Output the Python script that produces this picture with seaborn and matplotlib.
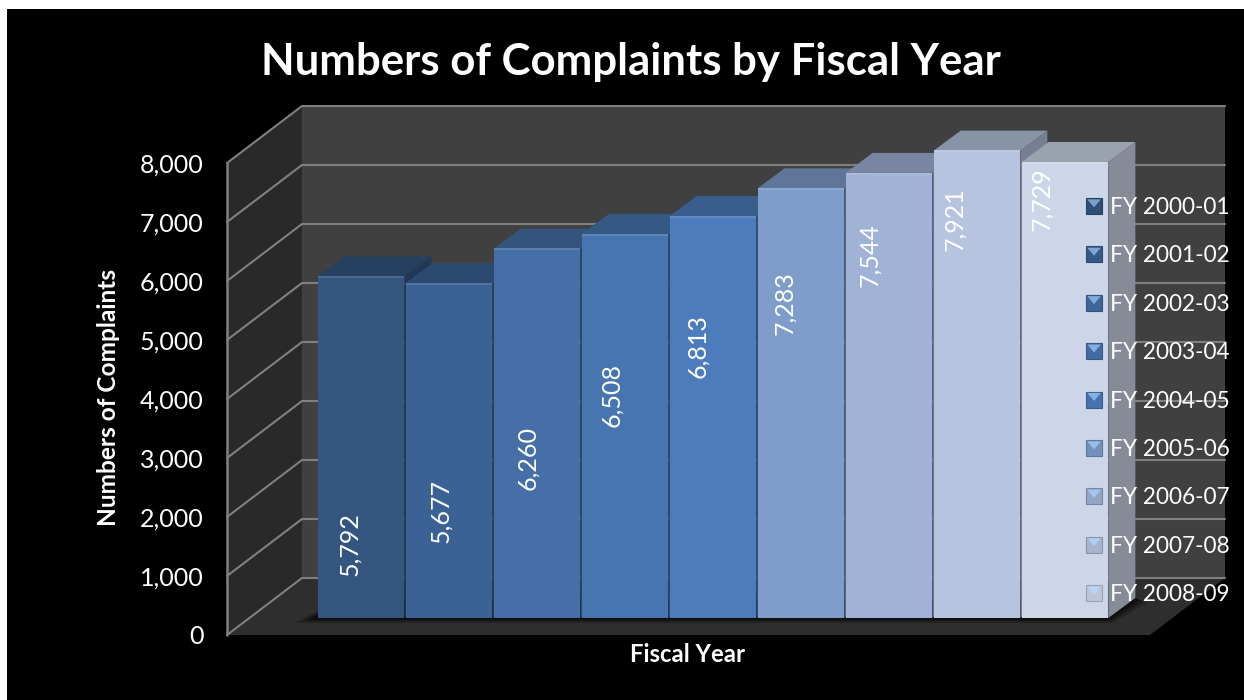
import matplotlib
matplotlib.use("Agg")
import matplotlib.pyplot as plt
import pandas as pd
import seaborn as sns
from matplotlib.colors import to_rgb
from matplotlib.legend_handler import HandlerBase
from matplotlib.patches import Patch, Polygon, Rectangle

# Complaint counts per fiscal year
fiscal_years = ["FY 2000-01", "FY 2001-02", "FY 2002-03", "FY 2003-04", "FY 2004-05",
                "FY 2005-06", "FY 2006-07", "FY 2007-08", "FY 2008-09"]
complaints = [5792, 5677, 6260, 6508, 6813, 7283, 7544, 7921, 7729]
y_ticks = [0, 1000, 2000, 3000, 4000, 5000, 6000, 7000, 8000]

front_colors = ["#33557f", "#3b6294", "#456fa6", "#4775b0", "#4c7cbc",
                "#7f9dca", "#a0b3d6", "#b6c4df", "#cdd6e9"]

# Where each rotated value label sits: height on the value scale, sideways shift in bar widths
label_heights = [1254, 1814, 2712, 3780, 4610, 5339, 6153, 6763, 7102]
label_shifts = [-0.125, -0.10, -0.11, -0.148, -0.17, -0.182, -0.216, -0.25, -0.26]

W, H = 1244, 700
UNIT_PX = 0.059          # pixels per complaint on the vertical scale
WALL_DX, WALL_DY = 75, 57   # depth of the chart box, px
BAR_DX, BAR_DY = 27, 20     # depth of each column, px
PITCH = 88                  # px per category

sns.set_theme(style="dark")
plt.rcParams["font.family"] = ["Lato", "DejaVu Sans"]
plt.rcParams["text.color"] = "white"


def px_box(left, right, top, bottom):
    return [left / W, 1 - bottom / H, (right - left) / W, (bottom - top) / H]


def shade(color, factor):
    return tuple(c * factor for c in to_rgb(color))


def mix(color, other, t):
    a, b = to_rgb(color), to_rgb(other)
    return tuple(x + (y - x) * t for x, y in zip(a, b))


class BevelHandler(HandlerBase):
    """Legend key: a small square with a lighter wedge along its top edge."""

    def create_artists(self, legend, orig, xd, yd, width, height, fontsize, trans):
        base = orig.get_facecolor()
        box = Rectangle((-xd, -yd), width, height, facecolor=mix(base, "#000000", 0.08),
                        edgecolor=mix(base, "#000000", 0.25), linewidth=0.8, transform=trans)
        wedge = Polygon([(-xd + 0.08 * width, -yd + 0.92 * height),
                         (-xd + 0.92 * width, -yd + 0.92 * height),
                         (-xd + 0.5 * width, -yd + 0.42 * height)],
                        facecolor=mix(base, "#a8d4ff", 0.6), edgecolor="none", transform=trans)
        return [box, wedge]


fig = plt.figure(figsize=(W / 100, H / 100), dpi=100, facecolor="white")
fig.add_artist(Rectangle((7 / W, 0), 1 - 7 / W, 1 - 9 / H, transform=fig.transFigure,
                         facecolor="black", edgecolor="none", zorder=-5))

# ---- chart box: side wall, back wall and floor, with the value axis on the front edge
WALL_LEFT, WALL_RIGHT, WALL_BOTTOM = 227, 1225, 635
wall_top = WALL_BOTTOM - 8000 * UNIT_PX - WALL_DY
box = fig.add_axes(px_box(WALL_LEFT, WALL_RIGHT, wall_top, WALL_BOTTOM))
box.patch.set_visible(False)
box_width = WALL_RIGHT - WALL_LEFT
depth_v = WALL_DY / UNIT_PX
box.set_xlim(0, box_width)
box.set_ylim(0, 8000 + depth_v)
box.add_patch(Polygon([(WALL_DX, depth_v), (box_width, depth_v), (box_width, 8000 + depth_v),
                       (WALL_DX, 8000 + depth_v)], facecolor="#404040", edgecolor="none"))
box.add_patch(Polygon([(0, 0), (WALL_DX, depth_v), (WALL_DX, 8000 + depth_v), (0, 8000)],
                      facecolor="#292929", edgecolor="none"))
box.add_patch(Polygon([(0, 0), (box_width - WALL_DX, 0), (box_width, depth_v), (WALL_DX, depth_v)],
                      facecolor="#2e2e2e", edgecolor="none"))
for v in y_ticks:
    box.plot([0, WALL_DX, box_width], [v, v + depth_v, v + depth_v], color="#808080", lw=1.5,
             solid_joinstyle="miter", clip_on=False)
box.plot([0, 0], [0, 8000], color="#808080", lw=1.8, clip_on=False)

box.set_xticks([])
box.set_yticks(y_ticks, [f"{v:,}" for v in y_ticks])
box.tick_params(axis="y", length=0, pad=17, labelsize=18, labelcolor="white")
for spine in box.spines.values():
    spine.set_visible(False)
box.set_ylabel("Numbers of Complaints", fontsize=17.6, fontweight="bold", color="white",
               va="center")
box.yaxis.set_label_coords((108 - WALL_LEFT) / box_width, (WALL_BOTTOM - 397) / (WALL_BOTTOM - wall_top))
box.set_xlabel("Fiscal Year", fontsize=17.2, fontweight="bold", color="white")
box.xaxis.set_label_coords((688 - WALL_LEFT) / box_width, -(655 - WALL_BOTTOM) / (WALL_BOTTOM - wall_top),
                           transform=box.transAxes)
box.xaxis.label.set_verticalalignment("center")

fig.suptitle("Numbers of Complaints by Fiscal Year", x=631 / W, y=1 - 62.5 / H, va="center",
             fontsize=31.5, fontweight="bold", color="white")

# ---- columns: front faces come from seaborn, depth faces follow from each bar's geometry
BAR_BOTTOM = 618
bars_left = 317
ax = fig.add_axes(px_box(bars_left, bars_left + PITCH * len(complaints), BAR_BOTTOM - 9000 * UNIT_PX, BAR_BOTTOM))
ax.set_zorder(2)

df = pd.DataFrame({"year": fiscal_years, "complaints": complaints})
sns.barplot(data=df, x="year", y="complaints", hue="year", order=fiscal_years, hue_order=fiscal_years,
            palette=front_colors, dodge=False, width=0.985, legend=False, saturation=1, ax=ax,
            zorder=3, linewidth=0)
ax.set_xlim(-0.5, len(complaints) - 0.5)
ax.set_ylim(0, 9000)
ax.axis("off")

dx_cat = BAR_DX / PITCH
dy_val = BAR_DY / UNIT_PX
bars = sorted([p for p in ax.patches], key=lambda p: p.get_x())

# soft shadow of the row of columns on the floor
row_left = bars[0].get_x()
row_right = bars[-1].get_x() + bars[-1].get_width()
for grow, alpha in zip((1.0, 0.65, 0.35), (0.22, 0.3, 0.4)):
    pad_x = 12 * grow / PITCH
    pad_v = 5 * grow / UNIT_PX
    ax.add_patch(Polygon([(row_left - 2 * pad_x, -pad_v), (row_right + pad_x * 0.3, -pad_v),
                          (row_right + dx_cat + pad_x, dy_val - pad_v),
                          (row_right + dx_cat, dy_val), (row_left + dx_cat, dy_val)],
                         facecolor="black", alpha=alpha, edgecolor="none", zorder=0.5, clip_on=False))

for bar, color in zip(bars, front_colors):
    x0 = bar.get_x()
    x1 = x0 + bar.get_width()
    top = bar.get_height()
    ax.add_patch(Polygon([(x1, 0), (x1 + dx_cat, dy_val), (x1 + dx_cat, top + dy_val), (x1, top)],
                         facecolor=shade(color, 0.65), edgecolor="none", zorder=1, clip_on=False))
    ax.add_patch(Polygon([(x0, top), (x0 + dx_cat, top + dy_val), (x1 + dx_cat, top + dy_val), (x1, top)],
                         facecolor=shade(color, 0.75), edgecolor="none", zorder=1, clip_on=False))
    # lighter bevel round the front face
    bevel = mix(color, "#ffffff", 0.12)
    ax.plot([x0, x1], [top - 12, top - 12], color=bevel, lw=1.4, zorder=4, solid_capstyle="butt")

for i, (value, height, shift) in enumerate(zip(complaints, label_heights, label_shifts)):
    ax.text(i + shift, height, f"{value:,}", rotation=90, ha="center", va="center",
            fontsize=18, color="white", zorder=5)

handles = [Patch(facecolor=c, label=y) for c, y in zip(front_colors, fiscal_years)]
legend = ax.legend(handles=handles, handler_map={Patch: BevelHandler()}, frameon=False,
                   loc="upper left", bbox_to_anchor=(1086 / W, 1 - 197 / H),
                   bbox_transform=fig.transFigure, fontsize=16.3, labelspacing=1.21,
                   handlelength=0.71, handleheight=0.71, handletextpad=0.35,
                   borderpad=0, borderaxespad=0, labelcolor="white")
legend.set_zorder(10)

fig.savefig("out.png", dpi=100)
